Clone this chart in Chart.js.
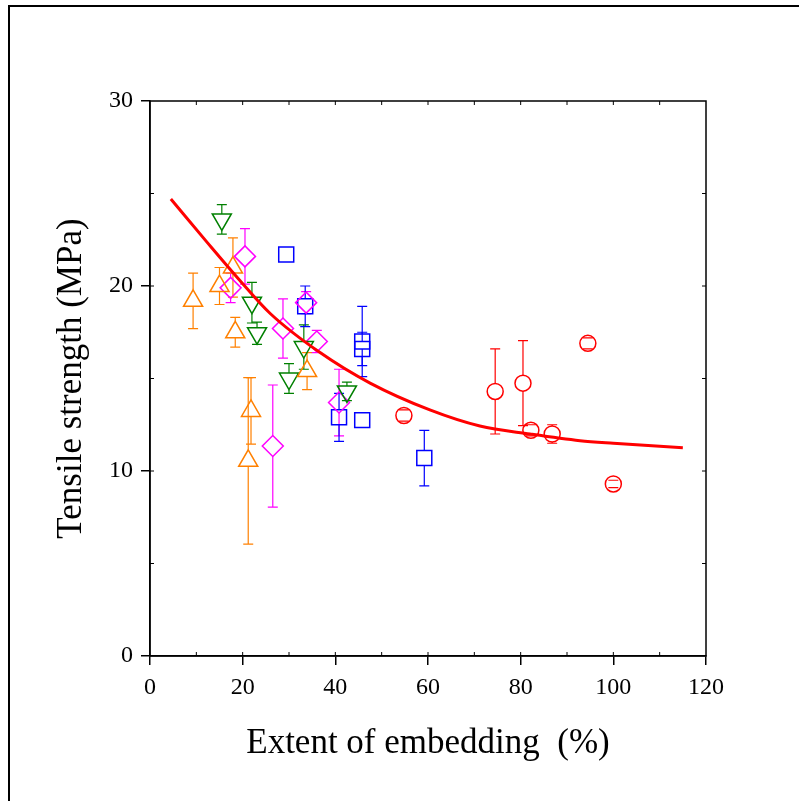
<!DOCTYPE html>
<html>
<head>
<meta charset="utf-8">
<script src="https://cdn.jsdelivr.net/npm/chart.js@4.4.0/dist/chart.umd.min.js"></script>
<style>
  html, body { margin: 0; padding: 0; background: #fff; overflow: hidden; }
  #wrap { position: relative; width: 799px; height: 801px; }
  #frame { position: absolute; left: 8px; top: 5px; width: 900px; height: 900px; border: 2px solid #000; pointer-events: none; }
</style>
</head>
<body>
<div id="wrap">
  <canvas id="strengthChart" width="799" height="801"></canvas>
  <div id="frame"></div>
</div>
<script>
// orange (up triangles)
var orangeX = [9.3, 15.0, 17.9, 18.4, 21.8, 21.2, 33.9];
var orangeY = [19.2, 20.0, 21.0, 17.5, 13.25, 10.55, 15.4];
var orangeErr = [1.5, 1.0, 1.6, 0.8, 1.8, 4.5, 1.0];

// green (down triangles)
var greenX = [15.5, 22.0, 23.1, 30.0, 33.2, 42.5];
var greenY = [23.6, 19.1, 17.45, 15.0, 16.7, 14.3];
var greenErr = [0.8, 1.1, 0.6, 0.8, 1.2, 0.5];

// magenta (diamonds)
var magentaX = [20.5, 17.4, 28.7, 33.7, 36.0, 40.8, 26.5];
var magentaY = [21.6, 19.9, 17.7, 19.1, 17.0, 13.7, 11.35];
var magentaErr = [1.5, 0.8, 1.6, 0.6, 0.6, 1.8, 3.3];

// blue (squares)
var blueX = [29.4, 33.5, 45.8, 45.8, 40.8, 45.8, 59.2];
var blueY = [21.7, 18.9, 17.0, 16.6, 12.9, 12.75, 10.7];
var blueErr = [0, 1.1, 1.9, 0.9, 1.3, 0, 1.5];

// red (circles)
var redX = [54.8, 74.5, 80.5, 82.2, 86.8, 94.5, 100.0];
var redY = [13.0, 14.3, 14.75, 12.2, 12.0, 16.9, 9.3];
var redErr = [0.3, 2.3, 2.3, 0.3, 0.5, 0.3, 0.2];

// fitted curve
var fitX = [4.5, 12.2, 19.4, 26.0, 36.7, 47.5, 60.4, 71.2, 82.0, 92.8, 100.0, 115.0];
var fitY = [24.7, 22.4, 20.3, 18.5, 16.4, 14.75, 13.3, 12.43, 12.0, 11.64, 11.5, 11.26];

var xTicks = [0, 20, 40, 60, 80, 100, 120];
var yTicks = [0, 10, 20, 30];

var serif = "'Liberation Serif', 'Times New Roman', serif";

function pairs(xs, ys) {
    return xs.map(function (x, i) { return { x: x, y: ys[i] }; });
}

// vertical error bars, with a gap where the symbol sits
var errorBarPlugin = {
    id: 'errorBars',
    beforeDatasetsDraw: function (chart) {
        var ctx = chart.ctx;
        var yScale = chart.scales.y;
        chart.data.datasets.forEach(function (ds, i) {
            if (!ds.errors) return;
            var meta = chart.getDatasetMeta(i);
            ctx.save();
            ctx.strokeStyle = ds.borderColor;
            ctx.lineWidth = 1.2;
            meta.data.forEach(function (pt, j) {
                var v = ds.data[j].y, e = ds.errors[j];
                if (!e) return;
                var top = yScale.getPixelForValue(v + e);
                var bot = yScale.getPixelForValue(v - e);
                var gTop = pt.y - ds.gapTop, gBot = pt.y + ds.gapBottom;
                ctx.beginPath();
                if (top < gTop) { ctx.moveTo(pt.x, top); ctx.lineTo(pt.x, gTop); }
                if (bot > gBot) { ctx.moveTo(pt.x, gBot); ctx.lineTo(pt.x, bot); }
                ctx.moveTo(pt.x - 5, top); ctx.lineTo(pt.x + 5, top);
                ctx.moveTo(pt.x - 5, bot); ctx.lineTo(pt.x + 5, bot);
                ctx.stroke();
            });
            ctx.restore();
        });
    }
};

// box around the plot + small inward ticks
var framePlugin = {
    id: 'plotFrame',
    afterDraw: function (chart) {
        var ctx = chart.ctx, a = chart.chartArea;
        var xs = chart.scales.x, ys = chart.scales.y;
        ctx.save();
        ctx.strokeStyle = '#000';
        ctx.lineWidth = 1.5;
        ctx.strokeRect(a.left, a.top, a.right - a.left, a.bottom - a.top);
        ctx.lineWidth = 1;
        ctx.beginPath();
        for (var v = 10; v < 120; v += 10) {
            var px = xs.getPixelForValue(v);
            ctx.moveTo(px, a.bottom); ctx.lineTo(px, a.bottom - 4);
            ctx.moveTo(px, a.top); ctx.lineTo(px, a.top + 4);
        }
        for (var w = 5; w < 30; w += 5) {
            var py = ys.getPixelForValue(w);
            ctx.moveTo(a.left, py); ctx.lineTo(a.left + 4, py);
            ctx.moveTo(a.right, py); ctx.lineTo(a.right - 4, py);
        }
        ctx.stroke();
        ctx.restore();
    }
};

document.addEventListener('DOMContentLoaded', function () {
    var ctx = document.getElementById('strengthChart').getContext('2d');

    new Chart(ctx, {
        type: 'scatter',
        data: {
            datasets: [{
                type: 'line',
                data: pairs(fitX, fitY),
                borderColor: 'rgb(255,0,0)',
                borderWidth: 3,
                pointRadius: 0,
                cubicInterpolationMode: 'monotone',
                fill: false
            }, {
                data: pairs(orangeX, orangeY),
                errors: orangeErr,
                pointStyle: 'triangle',
                pointRadius: 11,
                borderColor: 'rgb(255,128,0)',
                backgroundColor: 'rgba(0,0,0,0)',
                pointBorderWidth: 1.5,
                gapTop: 11, gapBottom: 5.5
            }, {
                data: pairs(greenX, greenY),
                errors: greenErr,
                pointStyle: 'triangle',
                rotation: 180,
                pointRadius: 11,
                borderColor: 'rgb(0,128,0)',
                backgroundColor: 'rgba(0,0,0,0)',
                pointBorderWidth: 1.5,
                gapTop: 5.5, gapBottom: 11
            }, {
                data: pairs(magentaX, magentaY),
                errors: magentaErr,
                pointStyle: 'rectRot',
                pointRadius: 10.5,
                borderColor: 'rgb(255,0,255)',
                backgroundColor: 'rgba(0,0,0,0)',
                pointBorderWidth: 1.5,
                gapTop: 10.5, gapBottom: 10.5
            }, {
                data: pairs(blueX, blueY),
                errors: blueErr,
                pointStyle: 'rect',
                pointRadius: 10.6,
                borderColor: 'rgb(0,0,255)',
                backgroundColor: 'rgba(0,0,0,0)',
                pointBorderWidth: 1.5,
                gapTop: 7.5, gapBottom: 7.5
            }, {
                data: pairs(redX, redY),
                errors: redErr,
                pointStyle: 'circle',
                pointRadius: 8,
                borderColor: 'rgb(255,0,0)',
                backgroundColor: 'rgba(0,0,0,0)',
                pointBorderWidth: 1.5,
                gapTop: 8, gapBottom: 8
            }]
        },
        options: {
            responsive: false,
            animation: false,
            layout: { padding: { left: 0, right: 93, top: 101, bottom: 0 } },
            plugins: {
                legend: { display: false },
                tooltip: { enabled: false }
            },
            scales: {
                x: {
                    type: 'linear',
                    min: 0,
                    max: 120,
                    afterBuildTicks: function (axis) {
                        axis.ticks = xTicks.map(function (v) { return { value: v }; });
                    },
                    afterFit: function (axis) { axis.height = 145; },
                    ticks: { color: '#000', padding: 8, font: { family: serif, size: 24 } },
                    grid: { drawOnChartArea: false, tickLength: 9, color: '#000', lineWidth: 1.5 },
                    border: { color: '#000', width: 1.5 },
                    title: {
                        display: true,
                        text: 'Extent of embedding  (%)',
                        color: '#000',
                        font: { family: serif, size: 35 },
                        padding: { top: 0, bottom: 36 }
                    }
                },
                y: {
                    min: 0,
                    max: 30,
                    afterBuildTicks: function (axis) {
                        axis.ticks = yTicks.map(function (v) { return { value: v }; });
                    },
                    afterFit: function (axis) { axis.width = 150; },
                    ticks: { color: '#000', padding: 8, font: { family: serif, size: 24 } },
                    grid: { drawOnChartArea: false, tickLength: 9, color: '#000', lineWidth: 1.5 },
                    border: { color: '#000', width: 1.5 },
                    title: {
                        display: true,
                        text: 'Tensile strength (MPa)',
                        color: '#000',
                        font: { family: serif, size: 35 },
                        padding: { top: 51, bottom: 0 }
                    }
                }
            }
        },
        plugins: [errorBarPlugin, framePlugin]
    });
});
</script>
</body>
</html>
